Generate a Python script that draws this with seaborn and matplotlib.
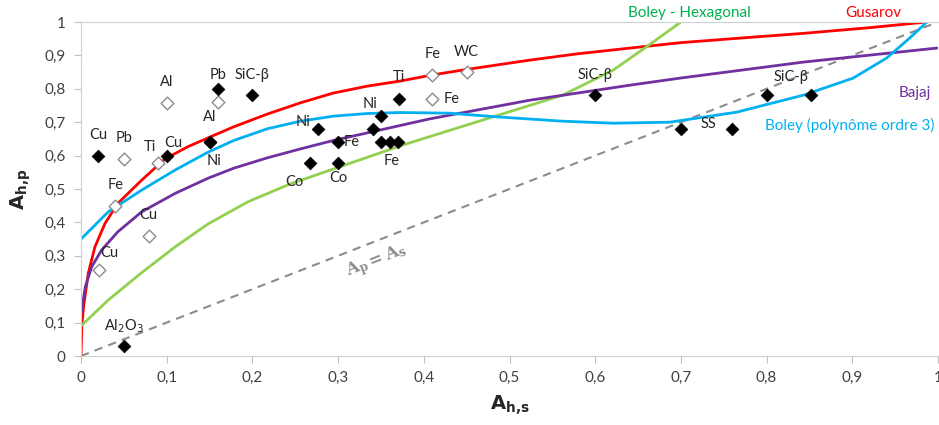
import matplotlib
matplotlib.use("Agg")
import matplotlib.pyplot as plt
import pandas as pd
import seaborn as sns

# filled diamonds (black)
fill_x = [0.02, 0.10, 0.15, 0.15, 0.16, 0.20, 0.05, 0.277, 0.30, 0.267, 0.30,
          0.341, 0.35, 0.35, 0.36, 0.37, 0.371, 0.60, 0.70, 0.76, 0.80, 0.852]
fill_y = [0.60, 0.60, 0.64, 0.64, 0.80, 0.78, 0.03, 0.68, 0.64, 0.578, 0.578,
          0.68, 0.72, 0.64, 0.64, 0.64, 0.77, 0.78, 0.68, 0.68, 0.78, 0.78]
fill_lbl = ["Cu", "Cu", "Al", "Ni", "Pb", "SiC-β", r"Al$_2$O$_3$", "Ni", "Fe", "Co", "Co",
            "", "Ni", "", "Fe", "", "Ti", "SiC-β", "SS", "", "SiC-β", ""]
fill_off = [(0, 21), (7, 13), (0, 25), (5, -19), (0, 14), (0, 20), (0, 20), (-15, 7), (14, 0),
            (-15, -19), (0, -15), (0, 0), (-11, 12), (0, 0), (2, -19), (0, 0), (0, 22),
            (0, 20), (28, 5), (0, 0), (24, 18), (0, 0)]

# open diamonds (grey outline)
open_x = [0.10, 0.16, 0.05, 0.09, 0.04, 0.079, 0.021, 0.41, 0.45, 0.41]
open_y = [0.757, 0.76, 0.59, 0.578, 0.449, 0.359, 0.257, 0.84, 0.85, 0.77]
open_lbl = ["Al", "", "Pb", "Ti", "Fe", "Cu", "Cu", "Fe", "WC", "Fe"]
open_off = [(0, 21), (0, 0), (0, 21), (-8, 16), (0, 21), (0, 21), (10, 17), (0, 21), (0, 20), (19, 0)]

# model curves
gus_x = [0, 0.001, 0.003, 0.0085, 0.0163, 0.028, 0.043, 0.071, 0.098, 0.125, 0.15, 0.178,
         0.217, 0.256, 0.294, 0.334, 0.372, 0.411, 0.45, 0.524, 0.58, 0.641, 0.699, 0.77,
         0.843, 0.92, 0.987]
gus_y = [0, 0.09, 0.148, 0.248, 0.327, 0.397, 0.457, 0.527, 0.59, 0.627, 0.655, 0.686,
         0.724, 0.758, 0.787, 0.808, 0.823, 0.842, 0.858, 0.886, 0.905, 0.922, 0.938, 0.952,
         0.966, 0.983, 1.0]
hex_x = [0, 0.032, 0.071, 0.11, 0.148, 0.195, 0.244, 0.298, 0.376, 0.407, 0.477, 0.562,
         0.621, 0.66, 0.70]
hex_y = [0.09, 0.168, 0.25, 0.327, 0.395, 0.462, 0.515, 0.563, 0.632, 0.657, 0.713, 0.781,
         0.856, 0.926, 1.0]
baj_x = [0, 0.005, 0.0125, 0.024, 0.043, 0.071, 0.11, 0.148, 0.178, 0.217, 0.256, 0.294,
         0.334, 0.407, 0.524, 0.641, 0.699, 0.843, 0.999]
baj_y = [0.128, 0.207, 0.267, 0.317, 0.372, 0.432, 0.487, 0.532, 0.562, 0.593, 0.62, 0.645,
         0.668, 0.71, 0.766, 0.811, 0.832, 0.88, 0.922]
pol_x = [0, 0.032, 0.071, 0.11, 0.148, 0.178, 0.217, 0.256, 0.294, 0.334, 0.372, 0.43,
         0.485, 0.562, 0.621, 0.687, 0.765, 0.843, 0.901, 0.94, 0.967, 0.987]
pol_y = [0.35, 0.432, 0.497, 0.557, 0.61, 0.645, 0.68, 0.703, 0.718, 0.726, 0.729, 0.727,
         0.716, 0.703, 0.697, 0.70, 0.73, 0.781, 0.832, 0.892, 0.952, 1.0]

sns.set_style("white")
plt.rcParams['font.family'] = ['Lato', 'DejaVu Sans']
plt.rcParams['mathtext.fontset'] = 'dejavusans'

fig = plt.figure(figsize=(9.39, 4.25), dpi=100)
ax = fig.add_axes([81 / 939, 69 / 425, 857 / 939, 334 / 425])

ax.plot([0, 1], [0, 1], ls=(0, (4, 3)), color="#8c8c8c", lw=1.5)

curves = [(gus_x, gus_y, "#ff0000"), (hex_x, hex_y, "#92d050"),
          (baj_x, baj_y, "#7030a0"), (pol_x, pol_y, "#00b0f0")]
for cx, cy, col in curves:
    d = pd.DataFrame({"x": cx, "y": cy})
    sns.lineplot(data=d, x="x", y="y", sort=False, estimator=None, color=col, lw=2, ax=ax)

sns.scatterplot(x=open_x, y=open_y, marker="D", s=42, facecolor="white",
                edgecolor="#8c8c8c", linewidth=1, ax=ax, zorder=5)
sns.scatterplot(x=fill_x, y=fill_y, marker="D", s=42, color="black",
                edgecolor="black", ax=ax, zorder=6)

for xs, ys, ls, offs in [(fill_x, fill_y, fill_lbl, fill_off), (open_x, open_y, open_lbl, open_off)]:
    for x, y, t, o in zip(xs, ys, ls, offs):
        if t:
            ax.annotate(t, (x, y), xytext=o, textcoords="offset pixels",
                        ha="center", va="center", fontsize=10.5, color="#262626", zorder=7)

ax.text(0.345, 0.282, r"$\mathbf{A_p = A_s}$", rotation=21.3, ha="center", va="center",
        fontsize=12, color="#8c8c8c", math_fontfamily="dejavuserif")
ax.text(0.71, 1.005, "Boley - Hexagonal", color="#00b050", fontsize=11, ha="center", va="bottom")
ax.text(0.925, 1.005, "Gusarov", color="#ff0000", fontsize=11, ha="center", va="bottom")
ax.text(0.973, 0.787, "Bajaj", color="#7030a0", fontsize=11, ha="center", va="center")
ax.text(0.897, 0.69, "Boley (polynôme ordre 3)", color="#00b0f0", fontsize=11,
        ha="center", va="center")

ticks = [i / 10 for i in range(11)]
tick_lbl = ["0"] + ["0,%d" % i for i in range(1, 10)] + ["1"]
ax.set_xlim(0, 1)
ax.set_ylim(0, 1)
ax.set_xticks(ticks)
ax.set_xticklabels(tick_lbl)
ax.set_yticks(ticks)
ax.set_yticklabels(tick_lbl)
ax.tick_params(axis="both", length=5, color="#bfbfbf", labelsize=11, labelcolor="#404040",
               direction="out", bottom=True, left=True, pad=6)
ax.spines["right"].set_visible(False)
for s in ["left", "bottom", "top"]:
    ax.spines[s].set_color("#d0d0d0")
ax.set_xlabel(r"$\mathbf{A_{h{,}s}}$", fontsize=14, labelpad=6)
ax.set_ylabel(r"$\mathbf{A_{h{,}p}}$", fontsize=14, labelpad=8)

fig.savefig("out.png", dpi=100)
